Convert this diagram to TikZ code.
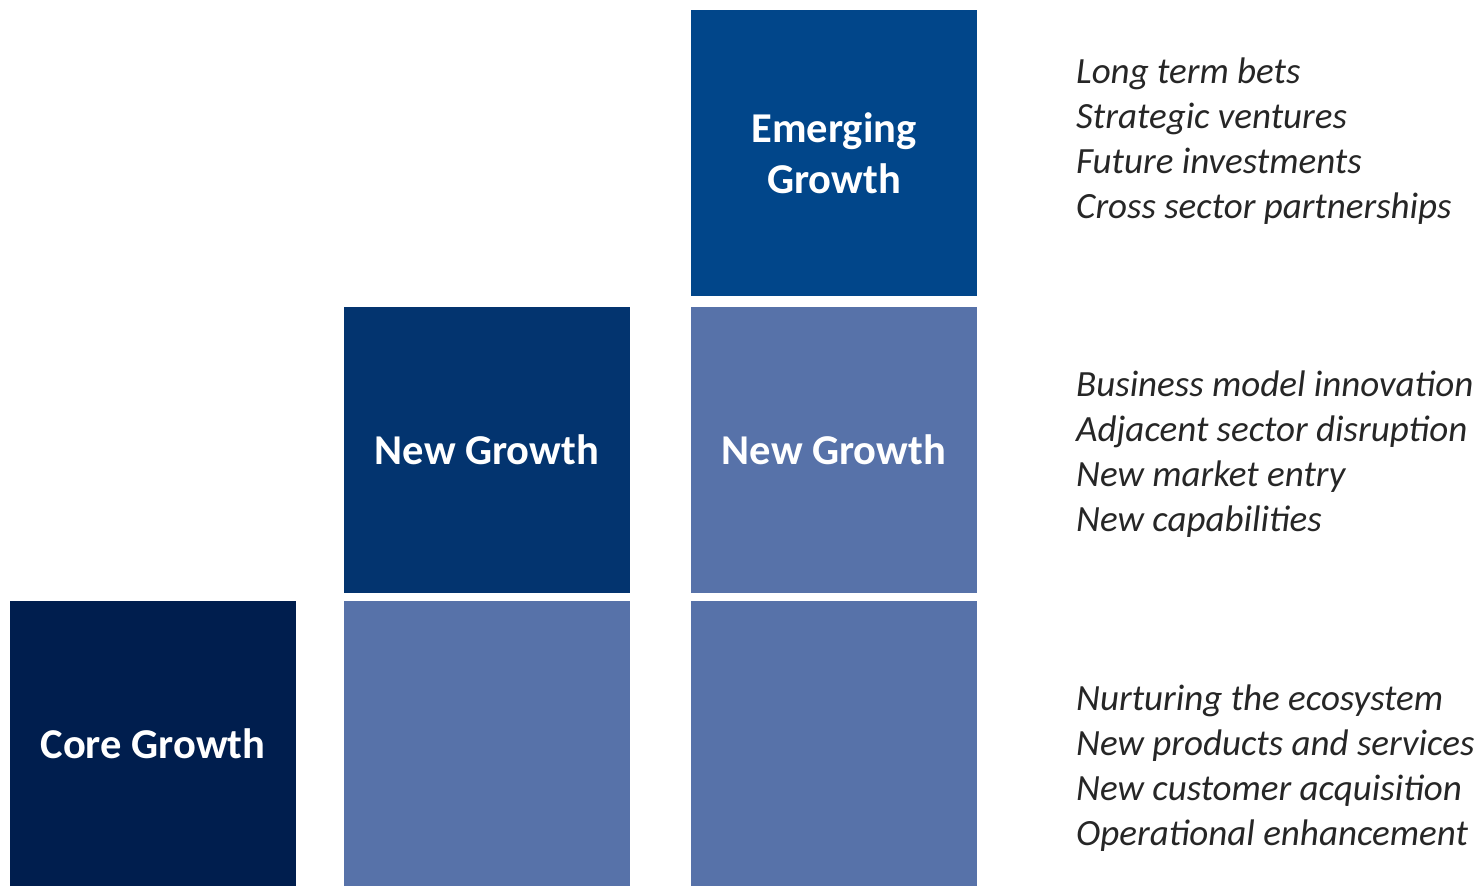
\documentclass[tikz,border=0pt]{standalone}
\usepackage{fontspec}
\setmainfont{Carlito}
\usetikzlibrary{positioning}

\definecolor{coreblue}{HTML}{001E4E}
\definecolor{newblue}{HTML}{03346F}
\definecolor{emergeblue}{HTML}{01468A}
\definecolor{paleblue}{HTML}{5772A9}
\definecolor{notegray}{HTML}{262626}

\tikzset{
  tile/.style={minimum width=286pt,minimum height=286pt,inner sep=0pt,
    text=white,align=center,font=\fontsize{42.5}{51}\selectfont\bfseries},
  note/.style={anchor=base west,inner sep=0pt,text=notegray,
    font=\fontsize{37}{45}\selectfont\itshape}
}

\begin{document}
\begin{tikzpicture}[x=1pt,y=-1pt]
  \useasboundingbox (0,0) rectangle (1483,886);
  % tiles
  \node[tile,fill=coreblue] (core) at (153,744) {Core Growth};
  \node[tile,fill=paleblue] (low2) at (487,744) {};
  \node[tile,fill=newblue] (new2) at (487,450) {New Growth};
  \node[tile,fill=paleblue] (low3) at (834,744) {};
  \node[tile,fill=paleblue] (new3) at (834,450) {New Growth};
  \node[tile,fill=emergeblue] (emerge) at (834,153) {Emerging\\Growth};
  % notes
  \foreach \txt [count=\i] in {Long term bets,Strategic ventures,Future investments,Cross sector partnerships}
    \node[note] (top-\i) at (1076,38+45*\i) {\txt};
  \foreach \txt [count=\i] in {Business model innovation,Adjacent sector disruption,New market entry,New capabilities}
    \node[note] (mid-\i) at (1076,351+45*\i) {\txt};
  \foreach \txt [count=\i] in {Nurturing the ecosystem,New products and services,New customer acquisition,Operational enhancement}
    \node[note] (low-\i) at (1076,665+45*\i) {\txt};
\end{tikzpicture}
\end{document}
